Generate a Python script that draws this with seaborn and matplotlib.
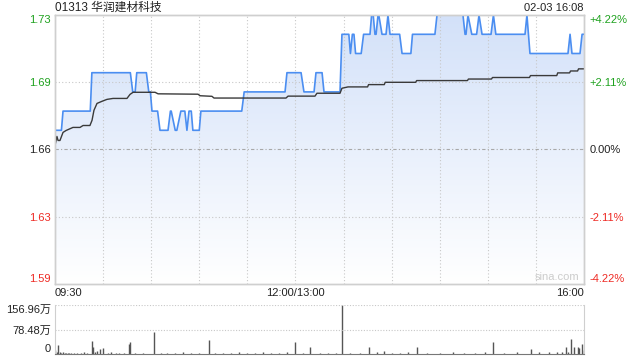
import numpy as np
import pandas as pd
import matplotlib
matplotlib.use("Agg")
import matplotlib.pyplot as plt
import seaborn as sns
from matplotlib.colors import LinearSegmentedColormap

# ---------------- data ----------------
title = "01313 华润建材科技"
timestamp = "02-03 16:08"
prev_close = 1.66
total_minutes = 330
x_tick_minutes = [0, 150, 330]
x_tick_labels = ["09:30", "12:00/13:00", "16:00"]

pct_ticks = [-4.22, -2.11, 0.0, 2.11, 4.22]
left_labels = ["1.59", "1.63", "1.66", "1.69", "1.73"]
right_labels = ["-4.22%", "-2.11%", "0.00%", "+2.11%", "+4.22%"]

# price segments: (start minute, end minute, price)
seg_start = [0, 5, 23, 48.5, 51, 58.5, 60.5, 65.5, 72, 75, 78.5, 82.3, 83.6, 86, 91,
             118, 144.7, 155.3, 162.8, 167.8, 179, 184.3, 185.5, 187.5, 192.5, 197.5,
             199.6, 201.5, 204, 207.7, 209, 216.5, 223, 238.3, 255.8, 257.6, 260,
             264.5, 266.4, 273.5, 275, 294.4, 296.3, 321.3, 322.5, 328.8]
seg_end = [4, 22, 47, 50, 57, 59.5, 64, 70.5, 72.5, 76, 81, 82.3, 85, 90, 116.5,
           143.5, 153.5, 161.6, 166.6, 177.8, 183.3, 184.3, 186.5, 191, 196.5, 198.5,
           200.3, 202, 206.5, 207.7, 215, 222, 237, 254.5, 256.4, 257.6, 263,
           264.5, 272, 273.5, 293.2, 294.4, 320, 321.3, 327.5, 330]
seg_price = [1.67, 1.68, 1.70, 1.69, 1.70, 1.69, 1.68, 1.67, 1.68, 1.67, 1.68, 1.67, 1.68, 1.67, 1.68,
             1.69, 1.70, 1.69, 1.70, 1.69, 1.72, 1.71, 1.72, 1.71, 1.72, 1.73,
             1.72, 1.73, 1.72, 1.73, 1.72, 1.71, 1.72, 1.73, 1.72, 1.73, 1.72,
             1.73, 1.72, 1.73, 1.72, 1.73, 1.71, 1.72, 1.71, 1.72]

# average price line
avg_min = [0, 1.2, 1.9, 3.1, 5, 6.9, 11.2, 15.6, 17.5, 21.8, 23.1, 24.3, 26.2, 29.3, 32.4,
           36.2, 44.9, 46.8, 48.7, 62.4, 64.3, 89.2, 90.5, 97.9, 99.2, 144.1, 145.4, 162.2,
           163.4, 177.8, 179, 182.8, 195, 195.6, 205.4, 206, 225, 225.6, 257.3, 257.9,
           272.3, 272.9, 296, 296.6, 313, 313.6, 321, 321.6, 326, 326.6, 330]
avg_price = [1.6621, 1.6668, 1.6647, 1.6647, 1.6689, 1.6699, 1.6715, 1.6715, 1.6725, 1.6725,
             1.6752, 1.6804, 1.6840, 1.6851, 1.6861, 1.6866, 1.6866, 1.6887, 1.6898, 1.6898,
             1.6890, 1.6888, 1.6880, 1.6877, 1.6868, 1.6868, 1.6878, 1.6878, 1.6893, 1.6893,
             1.6919, 1.6926, 1.6926, 1.6938, 1.6938, 1.6950, 1.6950, 1.6959, 1.6959, 1.6967,
             1.6967, 1.6975, 1.6975, 1.6985, 1.6985, 1.6999, 1.6999, 1.7009, 1.7009, 1.7020, 1.7020]

# volume (万股)
vol_min = [0, 1, 2, 3, 4, 5, 6, 7, 8, 9, 10, 12, 14, 16, 18, 20, 23, 24, 25, 26, 28, 30,
           33, 35, 38, 40, 43, 46, 47, 50, 55, 62, 66, 70, 75, 80, 85, 90, 96, 100, 105,
           110, 115, 120, 125, 130, 135, 140, 145, 150, 155, 159, 165, 170, 175, 179, 184,
           190, 196, 201, 205, 210, 215, 220, 226, 232, 240, 248, 255, 262, 268, 273, 280,
           288, 297, 302, 308, 313, 316, 319, 320, 322, 324, 326, 327, 329, 330]
vol_val = [13, 5, 29, 6, 4, 5, 3, 4, 3, 4, 3, 3, 4, 3, 8, 4, 42, 22, 6, 10, 16, 18,
           4, 5, 3, 4, 3, 32, 37, 4, 3, 72, 3, 4, 3, 5, 3, 4, 45, 3, 4,
           3, 5, 4, 3, 8, 4, 3, 5, 37, 3, 21, 4, 3, 4, 156.96, 3,
           4, 24, 8, 11, 4, 3, 5, 21, 4, 3, 5, 4, 3, 6, 37, 4,
           5, 16, 6, 5, 7, 6, 21, 8, 48, 24, 22, 19, 31, 13]
vol_max = 156.96
vol_labels = ["0", "78.48万", "156.96万"]

# ---------------- style ----------------
sns.set_style("white")
plt.rcParams['font.family'] = ['Liberation Sans', 'Noto Sans CJK SC', 'DejaVu Sans']

GREEN = "#1fa21f"
RED = "#ee2a24"
BLUE = "#4b8ef1"
GRID = "#c8c8c8"
SPINE = "#cfcfcf"

fig = plt.figure(figsize=(6.4, 3.6), dpi=100)
ax = fig.add_axes([55/640, 76/360, 529/640, 269/360])
axv = fig.add_axes([55/640, 6/360, 529/640, 49/360])

# build line arrays
bx, by = [], []
for s, e, p in zip(seg_start, seg_end, seg_price):
    bx.append(s); by.append(p)
    if e != s:
        bx.append(e); by.append(p)
df_price = pd.DataFrame({"minute": bx, "price": by})
df_avg = pd.DataFrame({"minute": avg_min, "price": avg_price})

ylo = prev_close * (1 + pct_ticks[0] / 100)
yhi = prev_close * (1 + pct_ticks[-1] / 100)

# gradient fill under price line
poly = ax.fill_between(df_price["minute"], df_price["price"], ylo, facecolor="none", edgecolor="none")
grad = np.linspace(0, 1, 256).reshape(-1, 1)
cmap = LinearSegmentedColormap.from_list("g", ["#ffffff", "#e9f0fc", "#d3e1f9"])
im = ax.imshow(grad, extent=[0, total_minutes, ylo, yhi], origin="lower",
               aspect="auto", cmap=cmap, zorder=1)
im.set_clip_path(poly.get_paths()[0], transform=ax.transData)

sns.lineplot(data=df_price, x="minute", y="price", ax=ax, color=BLUE, lw=1.2,
             sort=False, estimator=None, zorder=4)
sns.lineplot(data=df_avg, x="minute", y="price", ax=ax, color="#3a3a3a", lw=1.0,
             sort=False, estimator=None, zorder=5)

ax.set_xlim(0, total_minutes)
ax.set_ylim(ylo, yhi)

# gridlines
for m in range(30, total_minutes, 30):
    ax.axvline(m, color=GRID, lw=0.8, ls=(0, (1, 2)), zorder=2)
for pc in pct_ticks[1:-1]:
    yv = prev_close * (1 + pc / 100)
    if pc == 0:
        ax.axhline(yv, color="#a8a8a8", lw=0.8, ls=(0, (3, 2, 1, 2)), zorder=2)
    else:
        ax.axhline(yv, color=GRID, lw=0.8, ls=(0, (1, 2)), zorder=2)

price_ticks = [prev_close * (1 + pc / 100) for pc in pct_ticks]
ax.set_yticks(price_ticks)
ax.set_yticklabels(left_labels)
ax.tick_params(axis="y", length=0, pad=3, labelsize=8)
colors = [RED, RED, "#222222", GREEN, GREEN]
for lbl, c in zip(ax.get_yticklabels(), colors):
    lbl.set_color(c)
ylabs = ax.get_yticklabels()
ylabs[0].set_va("bottom")
ylabs[-1].set_va("top")

ax2 = ax.twinx()
ax2.set_ylim(ylo, yhi)
ax2.set_yticks(price_ticks)
ax2.set_yticklabels(right_labels)
ax2.tick_params(axis="y", length=0, pad=4, labelsize=8)
for lbl, c in zip(ax2.get_yticklabels(), colors):
    lbl.set_color(c)
rl = ax2.get_yticklabels()
rl[0].set_va("bottom")
rl[-1].set_va("top")

ax.set_xticks(x_tick_minutes)
ax.set_xticklabels(x_tick_labels)
ax.tick_params(axis="x", length=0, pad=3, labelsize=8, colors="#222222")
xl = ax.get_xticklabels()
xl[0].set_ha("left"); xl[-1].set_ha("right")
ax.set_xlabel(""); ax.set_ylabel("")
for a in (ax, ax2):
    for sp in a.spines.values():
        sp.set_color(SPINE)
        sp.set_linewidth(1)

ax.text(total_minutes - 3, ylo + 0.0012, "sina.com", ha="right", va="bottom",
        color="#cccccc", fontsize=8, zorder=6)

fig.text(55/640, 1 - 8/360, title, ha="left", va="center", fontsize=8.5, color="#222222")
fig.text(584/640, 1 - 8/360, timestamp, ha="right", va="center", fontsize=8, color="#222222")

# volume panel
axv.vlines(vol_min, 0, vol_val, color="#555555", lw=1.0)
axv.set_xlim(0, total_minutes)
axv.set_ylim(0, vol_max)
axv.axhline(vol_max / 2, color=GRID, lw=0.8, ls=(0, (1, 1.5)))
axv.axhline(vol_max, color=GRID, lw=0.8, ls=(0, (1, 1.5)))
axv.set_xticks([])
axv.set_yticks([0, vol_max / 2, vol_max])
axv.set_yticklabels(vol_labels)
axv.tick_params(axis="y", length=0, pad=3, labelsize=8, colors="#222222")
vl = axv.get_yticklabels()
vl[0].set_va("bottom"); vl[-1].set_va("top")
for k, sp in axv.spines.items():
    sp.set_color(SPINE)
axv.spines["top"].set_visible(False)
axv.spines["bottom"].set_color("#777777")
axv.spines["bottom"].set_linewidth(0.8)

fig.savefig("out.png", dpi=100)
